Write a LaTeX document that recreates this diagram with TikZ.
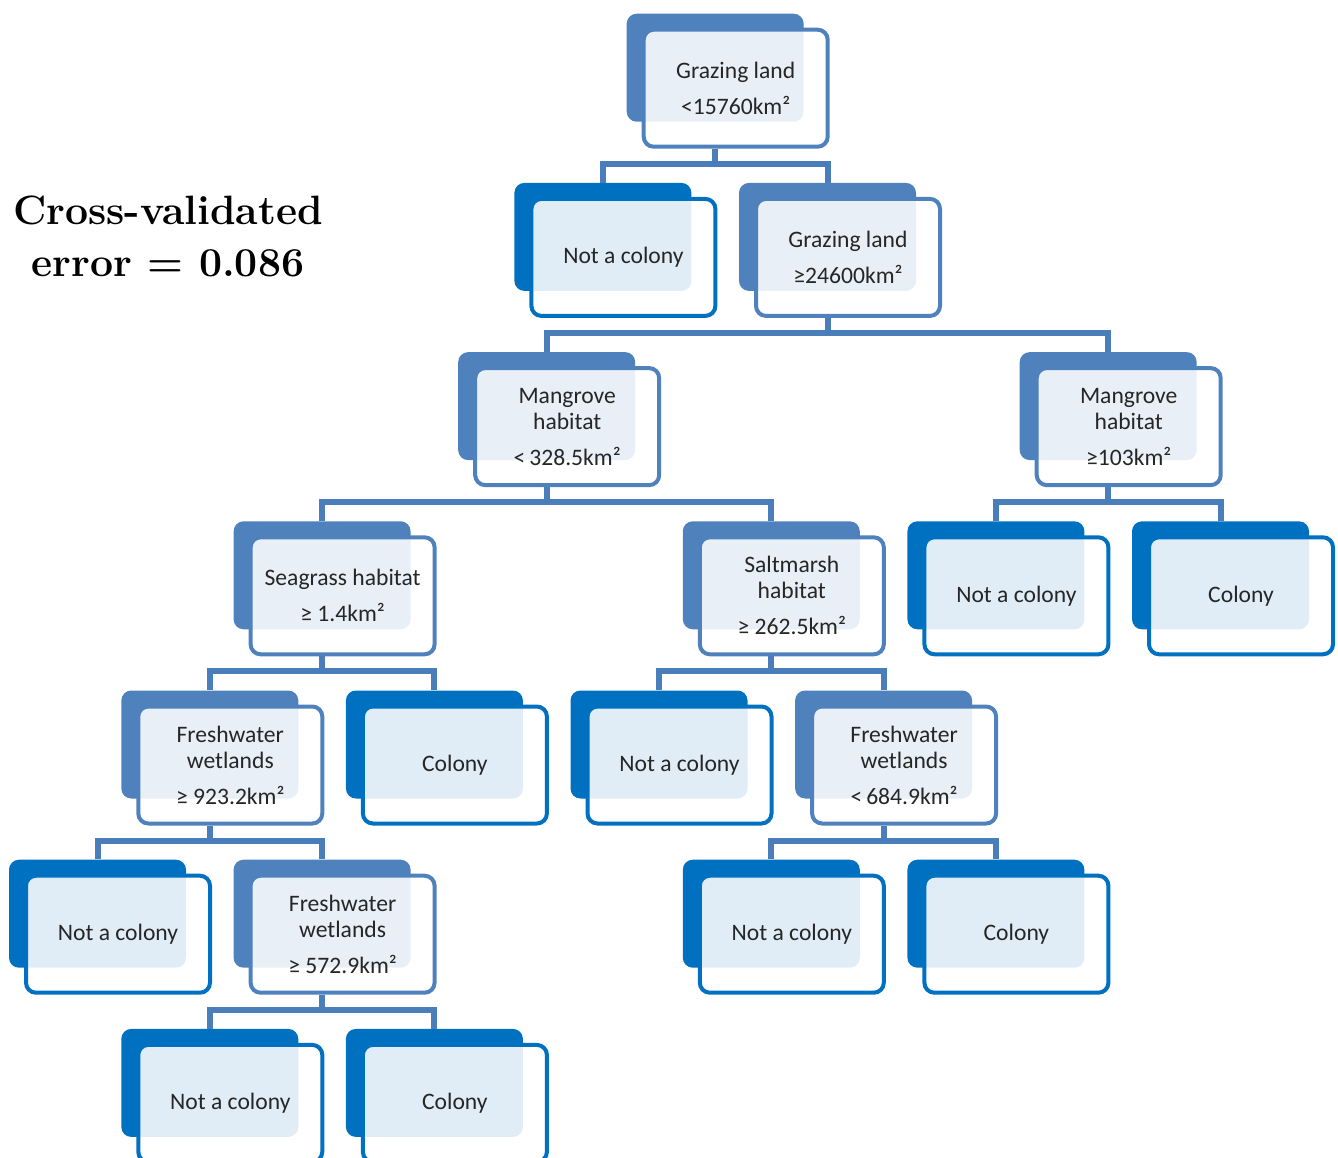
\documentclass[tikz,border=0pt]{standalone}
\usepackage{fontspec}
\newfontfamily\boxfont{Carlito}
\usepackage{tikz}
\usetikzlibrary{calc}
\definecolor{leafblue}{RGB}{0, 112, 192}
\definecolor{splitblue}{RGB}{79, 129, 189}
\definecolor{linkblue}{RGB}{74, 126, 187}

\tikzset{
  backbox/.style={rectangle, rounded corners=5pt, minimum width=88.5pt,
    minimum height=54pt, inner sep=0pt},
  frontbox/.style={rectangle, rounded corners=5pt, line width=2pt,
    fill=white, fill opacity=0.88, text opacity=1, minimum width=92pt,
    minimum height=58.5pt, inner sep=0pt, align=center, text=black!85,
    font=\boxfont\fontsize{11.8}{13}\selectfont},
  link/.style={linkblue, line width=3pt}
}

% back card + front card of one tree box
\newcommand{\treebox}[5]{%
  \node[backbox, fill=#4] (#1-back) at (#2,#3) {};
  \node[frontbox, draw=#4] (#1) at ($(#1-back)+(20.5,20.5)$) {#5};}

\begin{document}
\begin{tikzpicture}[x=0.5pt, y=-0.5pt]
        \useasboundingbox (0,0) rectangle (1338,1157);
        % Error of the tree
        \node[font=\fontsize{20.5}{26}\selectfont\bfseries, align=center]
          (title) at (168,236) {Cross-validated\\error = 0.086};
        % Level 0
        \treebox{root}{715.2}{67.7}{splitblue}{Grazing land\\[5pt]<15760km²}
        % Level 1
        \treebox{notA}{602.9}{236.9}{leafblue}{Not a colony}
        \treebox{graze}{827.5}{236.9}{splitblue}{Grazing land\\[5pt]≥24600km²}
        % Level 2
        \treebox{mangL}{546.7}{406.1}{splitblue}{Mangrove\\habitat\\[5pt]<\,328.5km²}
        \treebox{mangR}{1108.2}{406.1}{splitblue}{Mangrove\\habitat\\[5pt]≥103km²}
        % Level 3
        \treebox{seag}{322.1}{575.3}{splitblue}{Seagrass habitat\\[5pt]≥ 1.4km²}
        \treebox{salt}{771.3}{575.3}{splitblue}{Saltmarsh\\habitat\\[5pt]≥ 262.5km²}
        \treebox{notB}{995.9}{575.3}{leafblue}{Not a colony}
        \treebox{colA}{1220.5}{575.3}{leafblue}{Colony}
        % Level 4
        \treebox{freshA}{209.8}{744.5}{splitblue}{Freshwater\\wetlands\\[5pt]≥ 923.2km²}
        \treebox{colB}{434.4}{744.5}{leafblue}{Colony}
        \treebox{notC}{659}{744.5}{leafblue}{Not a colony}
        \treebox{freshB}{883.6}{744.5}{splitblue}{Freshwater\\wetlands\\[5pt]<\,684.9km²}
        % Level 5
        \treebox{notD}{97.5}{913.7}{leafblue}{Not a colony}
        \treebox{freshC}{322.1}{913.7}{splitblue}{Freshwater\\wetlands\\[5pt]≥ 572.9km²}
        \treebox{notE}{771.3}{913.7}{leafblue}{Not a colony}
        \treebox{colC}{995.9}{913.7}{leafblue}{Colony}
        % Level 6
        \treebox{notF}{209.8}{1082.9}{leafblue}{Not a colony}
        \treebox{colD}{434.4}{1082.9}{leafblue}{Colony}
        % Branches
        \draw[link] (root-back |- root.south) -- ++(0,15) -| (notA-back.north);
        \draw[link] (root-back |- root.south) -- ++(0,15) -| (graze-back.north);
        \draw[link] (graze-back |- graze.south) -- ++(0,15) -| (mangL-back.north);
        \draw[link] (graze-back |- graze.south) -- ++(0,15) -| (mangR-back.north);
        \draw[link] (mangL-back |- mangL.south) -- ++(0,15) -| (seag-back.north);
        \draw[link] (mangL-back |- mangL.south) -- ++(0,15) -| (salt-back.north);
        \draw[link] (mangR-back |- mangR.south) -- ++(0,15) -| (notB-back.north);
        \draw[link] (mangR-back |- mangR.south) -- ++(0,15) -| (colA-back.north);
        \draw[link] (seag-back |- seag.south) -- ++(0,15) -| (freshA-back.north);
        \draw[link] (seag-back |- seag.south) -- ++(0,15) -| (colB-back.north);
        \draw[link] (salt-back |- salt.south) -- ++(0,15) -| (notC-back.north);
        \draw[link] (salt-back |- salt.south) -- ++(0,15) -| (freshB-back.north);
        \draw[link] (freshA-back |- freshA.south) -- ++(0,15) -| (notD-back.north);
        \draw[link] (freshA-back |- freshA.south) -- ++(0,15) -| (freshC-back.north);
        \draw[link] (freshB-back |- freshB.south) -- ++(0,15) -| (notE-back.north);
        \draw[link] (freshB-back |- freshB.south) -- ++(0,15) -| (colC-back.north);
        \draw[link] (freshC-back |- freshC.south) -- ++(0,15) -| (notF-back.north);
        \draw[link] (freshC-back |- freshC.south) -- ++(0,15) -| (colD-back.north);
      \end{tikzpicture}
\end{document}
